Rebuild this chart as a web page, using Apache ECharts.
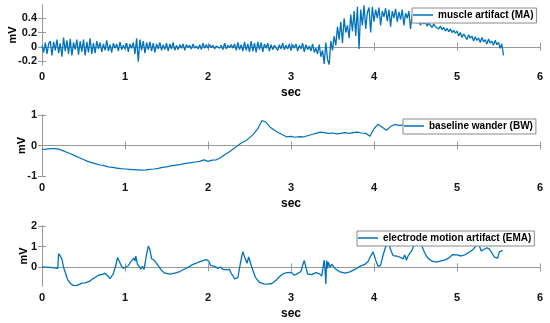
<!DOCTYPE html>
<html><head><meta charset="utf-8">
<script src="https://cdn.jsdelivr.net/npm/echarts@6/dist/echarts.min.js"></script>
<style>html,body{margin:0;padding:0;background:#fff}#c{width:550px;height:323px}</style>
</head><body><div id="c"></div><script>
// ---- data ----
const seriesNames = ['muscle artifact (MA)', 'baseline wander (BW)', 'electrode motion artifact (EMA)'];
const xTicks = [0, 1, 2, 3, 4, 5, 6];
const maTicks = [-0.2, 0, 0.2, 0.4];
const bwTicks = [-1, 0, 1];
const emaTicks = [0, 1, 2];

const maStep = 0.02; // s
const maValues = [
 0.02,-0.08,0.06,-0.1,0.04,0.08,-0.12,0.07,-0.05,0.1,-0.09,0.05,-0.14,0.13,-0.06,0.09,-0.1,0.11,-0.12,0.06,-0.04,0.1,-0.11,0.08,-0.07,
 0.1,-0.12,0.07,-0.08,0.12,-0.1,0.05,-0.09,0.08,-0.03,0.06,-0.07,0.04,-0.05,0.09,-0.06,0.03,-0.08,0.05,-0.02,0.04,-0.06,0.07,-0.04,0.02,
 -0.03,0.05,-0.07,0.04,-0.02,0.06,-0.1,0.12,-0.21,0.1,-0.05,0.08,-0.09,0.06,-0.04,0.07,-0.06,0.05,-0.08,0.04,-0.03,0.06,-0.05,0.03,-0.04,
 0.05,-0.06,0.04,-0.03,0.06,-0.05,0.02,-0.04,0.03,-0.02,0.04,-0.05,0.03,-0.01,0.02,-0.03,0.04,-0.02,0.01,-0.03,0.03,-0.04,0.05,-0.02,0.03,
 -0.02,0.03,-0.01,0.02,-0.03,0.01,0.03,-0.02,0.02,-0.04,0.05,-0.03,0.02,-0.01,0.03,-0.02,0.04,-0.05,0.06,-0.04,0.03,-0.06,0.07,-0.05,0.04,
 -0.07,0.08,-0.06,0.05,-0.08,0.07,-0.04,0.06,-0.07,0.04,-0.02,0.05,-0.06,0.03,-0.04,0.02,0.04,-0.05,0.03,-0.03,0.05,-0.04,0.02,-0.03,0.04,
 -0.05,0.03,-0.02,0.04,-0.06,0.02,-0.03,0.05,-0.07,0.03,-0.04,0.01,-0.06,0.04,-0.08,-0.02,-0.1,0.03,-0.14,-0.05,-0.24,0.06,-0.18,-0.25,0.08,
 -0.05,0.15,0.02,0.28,0.1,0.35,0.05,0.4,0.2,0.3,0.12,0.45,0.22,0.5,0.15,0.56,-0.03,0.52,0.3,0.58,0.25,0.48,0.55,0.2,0.56,
 0.35,0.52,0.4,0.55,0.3,0.5,0.42,0.54,0.36,0.52,0.28,0.5,0.4,0.53,0.35,0.49,0.38,0.52,0.3,0.47,0.4,0.5,0.25,0.45,0.36,
 0.42,0.33,0.38,0.3,0.36,0.32,0.35,0.29,0.33,0.3,0.27,0.32,0.28,0.3,0.25,0.29,0.24,0.27,0.22,0.26,0.21,0.25,0.2,0.23,0.19,
 0.22,0.15,0.2,0.13,0.18,0.16,0.1,0.17,0.12,0.15,0.08,0.14,0.09,0.12,0.06,0.13,0.07,0.1,0.04,0.11,0.05,0.08,0.02,0.09,0.03,
 0.06,-0.02,0.04,-0.12
];

const bwStep = 0.05; // s
const bwValues = [
 -0.13,-0.12,-0.1,-0.1,-0.12,-0.17,-0.22,-0.28,-0.34,-0.4,
 -0.46,-0.52,-0.56,-0.6,-0.64,-0.66,-0.7,-0.72,-0.74,-0.76,
 -0.77,-0.78,-0.79,-0.8,-0.81,-0.8,-0.78,-0.77,-0.75,-0.72,
 -0.7,-0.67,-0.65,-0.63,-0.6,-0.58,-0.56,-0.54,-0.52,-0.47,
 -0.52,-0.48,-0.47,-0.4,-0.3,-0.22,-0.12,-0.02,0.08,0.15,
 0.25,0.38,0.55,0.82,0.76,0.6,0.5,0.42,0.35,0.28,
 0.3,0.27,0.29,0.28,0.32,0.36,0.4,0.44,0.42,0.4,
 0.41,0.38,0.4,0.42,0.4,0.42,0.44,0.41,0.4,0.3,
 0.55,0.7,0.6,0.5,0.62,0.69,0.66,0.67,0.68,0.7,
 0.72,0.69,0.71,0.7,0.73,0.68,0.7,0.72,0.69,0.71,
 0.7,0.73,0.68,0.71,0.72,0.7,0.69,0.72,0.7,0.71,
 0.69,0.7
];

const emaTimes = [
 0,0.1,0.19,0.2,0.22,0.24,0.26,0.28,0.31,0.35,0.38,0.42,0.45,0.48,0.5,0.52,0.54,0.57,0.6,0.64,
 0.68,0.7,0.73,0.76,0.8,0.82,0.86,0.89,0.91,0.93,0.96,0.98,1.01,1.04,1.07,1.09,1.11,1.12,1.13,1.15,
 1.17,1.19,1.21,1.23,1.25,1.28,1.3,1.32,1.35,1.37,1.4,1.44,1.48,1.54,1.6,1.66,1.72,1.78,1.82,1.86,
 1.9,1.94,1.98,2.01,2.03,2.08,2.12,2.15,2.18,2.22,2.24,2.26,2.28,2.3,2.32,2.34,2.36,2.39,2.42,2.45,
 2.47,2.49,2.52,2.57,2.62,2.67,2.72,2.77,2.82,2.87,2.9,2.95,3,3.04,3.08,3.12,3.14,3.16,3.18,3.2,
 3.25,3.3,3.34,3.37,3.39,3.4,3.41,3.42,3.43,3.44,3.45,3.47,3.49,3.53,3.58,3.65,3.71,3.77,3.83,3.89,
 3.93,3.96,3.99,4.02,4.05,4.08,4.11,4.14,4.17,4.2,4.23,4.27,4.31,4.35,4.37,4.39,4.41,4.43,4.46,4.49,
 4.53,4.57,4.6,4.63,4.66,4.7,4.75,4.8,4.85,4.9,4.95,5,5.05,5.1,5.15,5.19,5.23,5.26,5.29,5.32,
 5.36,5.39,5.42,5.45,5.47,5.49,5.51,5.53,5.55
];
const emaValues = [
 0.02,0,-0.05,0.66,0.55,0.4,0,-0.25,-0.6,-0.81,-0.87,-0.88,-0.82,-0.76,-0.72,-0.75,-0.66,-0.68,-0.58,-0.49,
 -0.38,-0.35,-0.34,-0.28,-0.44,-0.55,-0.3,0.1,0.48,0.3,0.05,-0.05,0.02,0.08,0.28,0.36,0.45,0.3,0.55,0.15,
 0.05,-0.08,0.05,-0.1,0.4,1.03,0.85,0.42,0.35,0.3,0.08,-0.15,-0.28,-0.33,-0.28,-0.2,-0.08,0.05,0.15,0.2,
 0.28,0.33,0.38,0.3,0.1,0.05,-0.05,0.02,-0.1,-0.12,-0.18,-0.1,-0.3,-0.4,-0.56,-0.48,-0.5,0.2,0.76,0.4,
 0.2,0.5,0.1,-0.48,-0.72,-0.8,-0.81,-0.78,-0.62,-0.42,-0.32,-0.25,-0.24,-0.38,-0.3,-0.2,0.1,0.33,0,-0.32,
 -0.35,-0.25,-0.3,-0.42,-0.48,0.35,-0.1,-0.8,0.33,-0.05,0.25,0,0.15,-0.05,-0.2,-0.28,-0.22,-0.1,0.05,0.15,
 0.3,0.55,0.75,0.35,0.05,0.1,0.6,1,1.3,0.85,0.57,0.55,0.5,0.41,0.6,0.35,0.55,0.62,0.85,1.15,
 1.3,1.1,0.8,0.55,0.41,0.3,0.25,0.3,0.35,0.45,0.62,0.6,0.55,0.62,0.74,0.85,1.05,1.15,0.8,0.85,
 0.95,0.88,0.7,0.5,0.57,0.45,0.75,0.7,0.82
];

// ---- build ----
const maData = maValues.map((v, i) => [+(i * maStep).toFixed(3), v]);
const bwData = bwValues.map((v, i) => [+(i * bwStep).toFixed(3), v]);
const emaData = emaValues.map((v, i) => [emaTimes[i], v]);

const FONT = '"Liberation Sans", Arial, Helvetica, sans-serif';
const AX = '#999999';
const LINE = '#0072BD';

const grids = [
  { left: 42, width: 498, top: 5, height: 60, outerBoundsMode: 'none', containLabel: false },
  { left: 42, width: 498, top: 115, height: 61, outerBoundsMode: 'none', containLabel: false },
  { left: 42, width: 498, top: 226, height: 60, outerBoundsMode: 'none', containLabel: false }
];
const yCfg = [
  { min: -0.255, max: 0.585, ticks: maTicks, gap: 24 },
  { min: -1, max: 1, ticks: bwTicks, gap: 15 },
  { min: -0.9, max: 2, ticks: emaTicks, gap: 13 }
];

const xAxis = [], yAxis = [];
grids.forEach((g, i) => {
  xAxis.push({
    type: 'value', gridIndex: i, position: 'bottom', min: 0, max: 6,
    name: 'sec', nameLocation: 'middle', nameGap: 22, nameMoveOverlap: false,
    nameTextStyle: { fontFamily: FONT, fontWeight: 'bold', fontSize: 12, color: '#000' },
    axisLine: { show: true, lineStyle: { color: AX, width: 1 } },
    axisTick: { show: true, inside: true, length: 4, customValues: xTicks, lineStyle: { color: AX } },
    axisLabel: { show: true, customValues: xTicks, margin: 6, fontFamily: FONT, fontWeight: 'bold', fontSize: 11, color: '#111' },
    splitLine: { show: false }
  });
  xAxis.push({
    type: 'value', gridIndex: i, position: 'top', min: 0, max: 6,
    axisLine: { show: true, lineStyle: { color: AX, width: 1 } },
    axisTick: { show: true, inside: true, length: 4, customValues: xTicks, lineStyle: { color: AX } },
    axisLabel: { show: false }, splitLine: { show: false }
  });
  const c = yCfg[i];
  yAxis.push({
    type: 'value', gridIndex: i, position: 'left', min: c.min, max: c.max,
    name: 'mV', nameLocation: 'middle', nameGap: c.gap, nameRotate: 90, nameMoveOverlap: false,
    nameTextStyle: { fontFamily: FONT, fontWeight: 'bold', fontSize: 11, color: '#000' },
    axisLine: { show: true, lineStyle: { color: AX, width: 1 } },
    axisTick: { show: true, inside: true, length: 4, customValues: c.ticks, lineStyle: { color: AX } },
    axisLabel: { show: true, customValues: c.ticks, margin: 5, fontFamily: FONT, fontWeight: 'bold', fontSize: 11, color: '#111' },
    splitLine: { show: false }
  });
  yAxis.push({
    type: 'value', gridIndex: i, position: 'right', min: c.min, max: c.max,
    axisLine: { show: true, lineStyle: { color: AX, width: 1 } },
    axisTick: { show: true, inside: true, length: 4, customValues: c.ticks, lineStyle: { color: AX } },
    axisLabel: { show: false }, splitLine: { show: false }
  });
});

const datas = [maData, bwData, emaData];
const widths = [1.3, 1.2, 1.3];
const series = datas.map((d, i) => ({
  type: 'line', name: seriesNames[i], xAxisIndex: 2 * i, yAxisIndex: 2 * i,
  data: d, showSymbol: false, symbol: 'none', clip: true, animation: false,
  lineStyle: { color: LINE, width: widths[i] }, itemStyle: { color: LINE }
}));

const legendPos = [{ left: 412, top: 8 }, { left: 403, top: 119 }, { left: 357, top: 231 }];
const legend = legendPos.map((p, i) => ({
  data: [seriesNames[i]], left: p.left, top: p.top, orient: 'horizontal',
  selectedMode: false, icon: 'rect', itemWidth: 20, itemHeight: 1.5,
  backgroundColor: '#fff', borderColor: '#8a8a8a', borderWidth: 1, borderRadius: 0,
  padding: [1, 3, 2, 1],
  textStyle: { fontFamily: FONT, fontWeight: 'bold', fontSize: 10, lineHeight: 12, color: '#000' }
}));

const chart = echarts.init(document.getElementById('c'), null, { renderer: 'canvas' });
chart.setOption({
  animation: false, backgroundColor: '#fff',
  grid: grids, xAxis, yAxis, series, legend
});
</script></body></html>
